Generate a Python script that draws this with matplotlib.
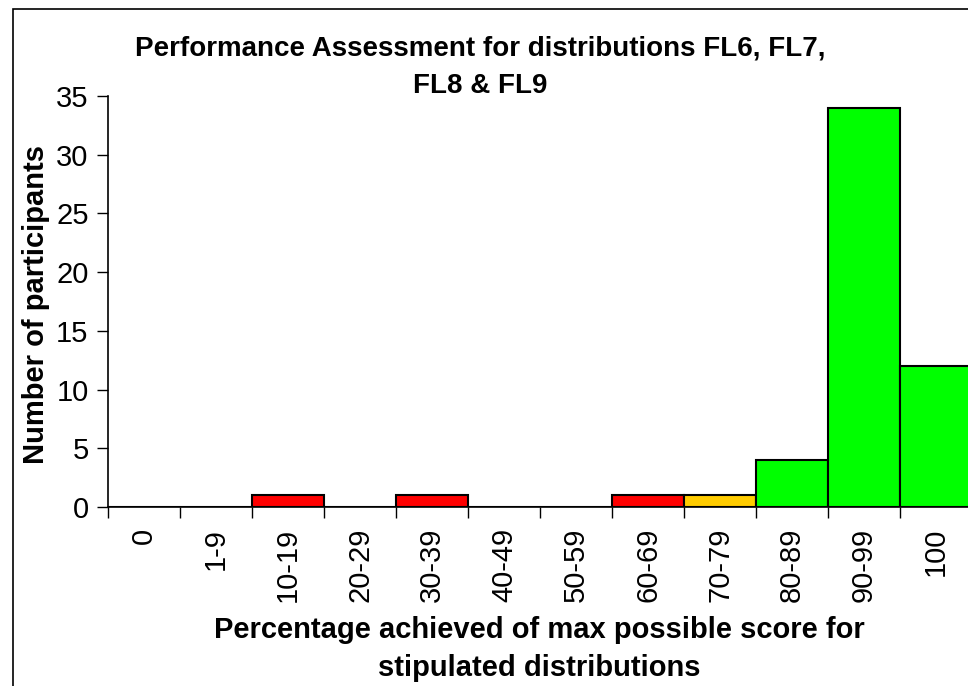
import numpy as np
import matplotlib.pyplot as plt
from matplotlib.patches import Rectangle

plt.rcParams['font.family'] = ['Liberation Sans', 'DejaVu Sans']

# score bands and number of participants in each
bands = ['0', '1-9', '10-19', '20-29', '30-39', '40-49', '50-59',
         '60-69', '70-79', '80-89', '90-99', '100']
counts = [0, 0, 1, 0, 1, 0, 0, 1, 1, 4, 34, 12]
colors = ['#FF0000'] * 8 + ['#FFCC00'] + ['#00FF00'] * 3

fig = plt.figure(figsize=(9.68, 6.86), dpi=100)
ax = fig.add_axes([108 / 968, 1 - 507 / 686, 864 / 968, 411 / 686])

# outer frame of the chart area
fig.patches.append(Rectangle((13 / 968, -0.1), 2, 1.1 - 9 / 686,
                             transform=fig.transFigure, fill=False,
                             edgecolor='black', linewidth=1.2))

x = np.arange(len(bands))
ax.bar(x, counts, width=1.0, align='edge', color=colors,
       edgecolor='black', linewidth=1.5, zorder=3)

ax.set_xlim(0, len(bands))
ax.set_ylim(0, 35)
ax.set_yticks(range(0, 36, 5))
ax.set_xticks(x)
ax.set_xticklabels([])
ax.set_xticks(x + 0.5, minor=True)
ax.set_xticklabels(bands, minor=True, rotation=90, fontsize=21)
ax.tick_params(axis='x', which='major', length=8, width=1, direction='out')
ax.tick_params(axis='x', which='minor', length=0, pad=15)
ax.tick_params(axis='y', length=8, width=1, labelsize=21, pad=6)

for s in ['top', 'right']:
    ax.spines[s].set_visible(False)
for s in ['left', 'bottom']:
    ax.spines[s].set_linewidth(1.2)

fig.text(480 / 968, 1 - 48 / 686,
         'Performance Assessment for distributions FL6, FL7,',
         ha='center', va='center', fontsize=20, fontweight='bold')
fig.text(480 / 968, 1 - 86 / 686, 'FL8 & FL9',
         ha='center', va='center', fontsize=20, fontweight='bold')

fig.text(539 / 968, 1 - 630 / 686,
         'Percentage achieved of max possible score for',
         ha='center', va='center', fontsize=21, fontweight='bold')
fig.text(539 / 968, 1 - 668 / 686, 'stipulated distributions',
         ha='center', va='center', fontsize=21, fontweight='bold')

fig.text(36 / 968, 1 - 304 / 686, 'Number of participants',
         ha='center', va='center', rotation=90, fontsize=21,
         fontweight='bold')

fig.savefig('out.png', dpi=100)
